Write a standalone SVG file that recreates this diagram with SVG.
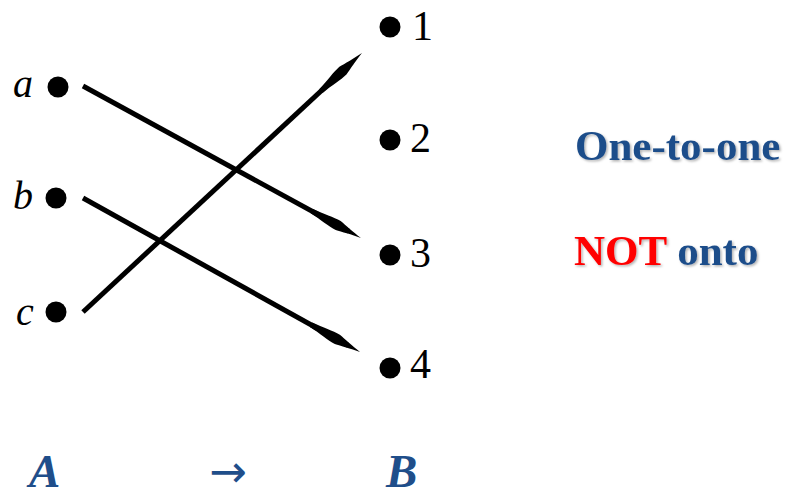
<svg xmlns="http://www.w3.org/2000/svg" width="791" height="498" viewBox="0 0 791 498">
  <style>
    .dot { fill: #000; }
    .lbl { font-family: "Liberation Serif", "Times New Roman", serif; font-style: italic; font-size: 40px; fill: #000; }
    .num { font-family: "Liberation Serif", "Times New Roman", serif; font-size: 42px; fill: #000; }
    .edge { stroke: #000; stroke-width: 5; fill: none; marker-end: url(#spear); }
    .title { font-family: "Liberation Serif", "Times New Roman", serif; font-weight: bold; font-size: 43px; fill: #1F4E8A; filter: url(#sh); }
    .red { fill: #FF0000; }
    .set { font-family: "Liberation Serif", "Times New Roman", serif; font-weight: bold; font-style: italic; font-size: 47px; fill: #1F4E8A; }
    .arr { font-family: "DejaVu Sans", sans-serif; font-size: 45px; fill: #1F4E8A; }
  </style>
  <defs>
    <marker id="spear" markerUnits="userSpaceOnUse" orient="auto" markerWidth="60" markerHeight="20" viewBox="-42 -10 60 20" refX="0" refY="0" overflow="visible">
      <path d="M-42,-2.5 C-30,-3.2 -20,-5.4 -12,-5.2 C-6,-4 4,-1.5 14,0 C4,1.5 -6,4 -12,5.2 C-20,5.4 -30,3.2 -42,2.5 Z" fill="#000"/>
    </marker>
    <filter id="sh" x="-10%" y="-20%" width="120%" height="150%">
      <feDropShadow dx="1.5" dy="1.5" stdDeviation="1" flood-color="#000" flood-opacity="0.3"/>
    </filter>
  </defs>
  <rect width="791" height="498" fill="#fff"/>

  <g id="edges">
    <line class="edge" x1="83" y1="86" x2="348.7" y2="231.3"/>
    <line class="edge" x1="83" y1="198" x2="347.8" y2="345.2"/>
    <line class="edge" x1="83" y1="312" x2="351.7" y2="62.5"/>
  </g>

  <g id="node-a"><circle class="dot" cx="58" cy="87" r="10.5"/><text class="lbl" x="13" y="97">a</text></g>
  <g id="node-b"><circle class="dot" cx="56" cy="198" r="10.5"/><text class="lbl" x="13" y="209">b</text></g>
  <g id="node-c"><circle class="dot" cx="56" cy="312" r="10.5"/><text class="lbl" x="16" y="325">c</text></g>

  <g id="node-1"><circle class="dot" cx="390" cy="27" r="10.5"/><text class="num" x="412" y="40">1</text></g>
  <g id="node-2"><circle class="dot" cx="390" cy="140" r="10.5"/><text class="num" x="410" y="152">2</text></g>
  <g id="node-3"><circle class="dot" cx="390" cy="255" r="10.5"/><text class="num" x="410" y="267">3</text></g>
  <g id="node-4"><circle class="dot" cx="390" cy="368" r="10.5"/><text class="num" x="410" y="378">4</text></g>

  <g id="properties">
    <text class="title" x="575" y="160">One-to-one</text>
    <text class="title" x="574" y="265"><tspan class="red">NOT</tspan> onto</text>
  </g>

  <g id="sets">
    <text class="set" x="29" y="487">A</text>
    <text class="arr" x="209" y="487">→</text>
    <text class="set" x="386" y="487">B</text>
  </g>
</svg>
